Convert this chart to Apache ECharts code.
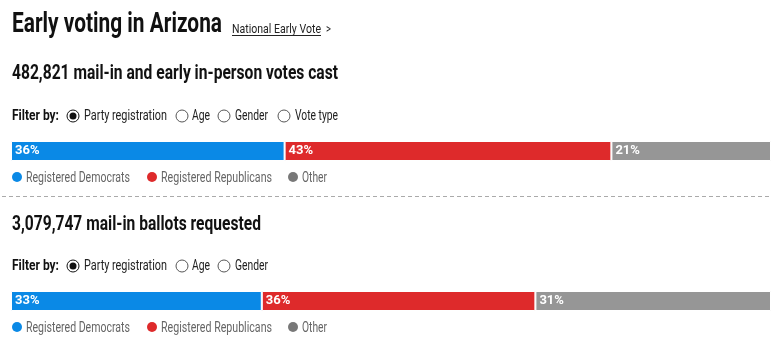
<!DOCTYPE html>
<html>
<head>
<meta charset="utf-8">
<script src="https://cdn.jsdelivr.net/npm/echarts@6/dist/echarts.min.js"></script>
<style>
  html, body { margin: 0; padding: 0; background: #fff; }
  #chart { width: 779px; height: 352px; }
</style>
</head>
<body>
<div id="chart"></div>
<script>
// data
const groups = ['Registered Democrats', 'Registered Republicans', 'Other']
const castShares = [36, 43, 21]          // mail-in + early in-person votes cast
const requestedShares = [33, 36, 31]     // mail-in ballots requested
const castTotal = '482,821'
const requestedTotal = '3,079,747'
const castFilters = ['Party registration', 'Age', 'Gender', 'Vote type']
const requestedFilters = ['Party registration', 'Age', 'Gender']

const barColors = ['#0a89e6', '#de2a2b', '#969696']
const dotColors = ['#0a89e6', '#de2a2b', '#787878']
const FONT = 'Roboto, "Liberation Sans", sans-serif'

const chart = echarts.init(document.getElementById('chart'), null, { renderer: 'canvas' })

/* 参考图用的是窄体字，这里用 Roboto 再按目标宽度横向压缩 */
const measureCtx = document.createElement('canvas').getContext('2d')
function fitText(x, y, text, size, weight, color, width) {
  const font = `${weight} ${size}px ${FONT}`
  measureCtx.font = font
  const w = measureCtx.measureText(text).width
  return {
    type: 'text', x, y, scaleX: width ? width / w : 1,
    style: { text, font, fill: color, verticalAlign: 'middle' }
  }
}

// filter row: "Filter by:" + radio buttons
const radioX = [73, 182, 224, 284]
const radioLabelX = [84, 192, 235, 295]
const radioLabelW = [83, 18, 33, 43]
function filterRow(y, labels) {
  const out = [fitText(12, y, 'Filter by:', 14.5, 'bold', '#111', 47)]
  labels.forEach((l, i) => {
    out.push({
      type: 'circle', shape: { cx: radioX[i], cy: y, r: 6 },
      style: { fill: '#fff', stroke: i === 0 ? '#111' : '#555', lineWidth: 1 }
    })
    if (i === 0) out.push({ type: 'circle', shape: { cx: radioX[i], cy: y, r: 3.5 }, style: { fill: '#111' } })
    out.push(fitText(radioLabelX[i], y + 0.5, l, 14.5, 'normal', '#222', radioLabelW[i]))
  })
  return out
}

// legend row: dot + label per group
const legendDotX = [17, 152, 293]
const legendLabelW = [104, 111, 25]
function legendRow(y) {
  const out = []
  groups.forEach((g, i) => {
    out.push({ type: 'circle', shape: { cx: legendDotX[i], cy: y, r: 5 }, style: { fill: dotColors[i] } })
    out.push(fitText(legendDotX[i] + 9, y + 1, g, 14.5, 'normal', '#666', legendLabelW[i]))
  })
  return out
}

function barSeries(shares, gi) {
  return groups.map((g, i) => ({
    name: g,
    type: 'bar',
    stack: 's' + gi,
    xAxisIndex: gi,
    yAxisIndex: gi,
    barWidth: '100%',
    itemStyle: { color: barColors[i], borderColor: '#fff', borderWidth: 1 },
    label: {
      show: true, position: 'insideLeft', distance: 4,
      formatter: '{c}%', color: '#fff', fontFamily: FONT, fontWeight: 'bold', fontSize: 13
    },
    emphasis: { disabled: true },
    data: [shares[i]]
  }))
}

chart.setOption({
  animation: false,
  grid: [
    { left: 11, right: 8, top: 141, height: 20 },
    { left: 11, right: 8, top: 291, height: 20 }
  ],
  xAxis: [0, 1].map(gi => ({ type: 'value', min: 0, max: 100, show: false, gridIndex: gi })),
  yAxis: [0, 1].map(gi => ({ type: 'category', data: [''], show: false, gridIndex: gi })),
  series: [...barSeries(castShares, 0), ...barSeries(requestedShares, 1)],
  graphic: [
    fitText(12, 25, 'Early voting in Arizona', 28, 'bold', '#111', 210),
    fitText(232, 29.5, 'National Early Vote', 13.5, 'normal', '#222', 89),
    { type: 'line', shape: { x1: 232, y1: 35.5, x2: 321, y2: 35.5 }, style: { stroke: '#222', lineWidth: 1 } },
    fitText(326, 29.5, '>', 13.5, 'normal', '#222', 5),
    fitText(12, 74, castTotal + ' mail-in and early in-person votes cast', 20.5, 'bold', '#111', 326),
    ...filterRow(116, castFilters),
    ...legendRow(177),
    {
      type: 'line', shape: { x1: 2, y1: 196.5, x2: 771, y2: 196.5 },
      style: { stroke: '#aaa', lineWidth: 1, lineDash: [4, 3] }
    },
    fitText(12, 224.5, requestedTotal + ' mail-in ballots requested', 20.5, 'bold', '#111', 249),
    ...filterRow(266, requestedFilters),
    ...legendRow(327)
  ]
})
</script>
</body>
</html>
